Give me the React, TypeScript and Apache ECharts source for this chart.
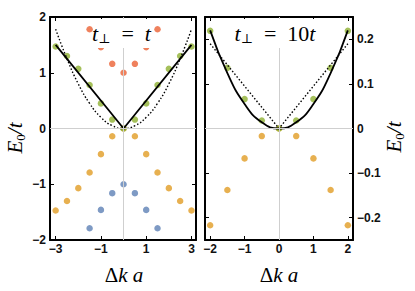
import React, { useEffect, useRef } from "react";
import * as echarts from "echarts";

// ---------- data ----------
const leftX = [-3, -2.5, -2, -1.5, -1, -0.5, 0, 0.5, 1, 1.5, 2, 2.5, 3];
const leftGreen = [1.47, 1.3, 1.07, 0.78, 0.45, 0.16, 0, 0.16, 0.45, 0.78, 1.07, 1.3, 1.47];
const leftOrange = [-1.47, -1.3, -1.07, -0.79, -0.46, -0.14, 0, -0.14, -0.46, -0.79, -1.07, -1.3, -1.47];
const leftInnerX = [-1.5, -1, -0.5, 0, 0.5, 1, 1.5];
const leftRed = [1.78, 1.46, 1.16, 1.0, 1.16, 1.46, 1.78];
const leftBlue = [-1.79, -1.46, -1.16, -1.0, -1.16, -1.46, -1.79];
const leftSolidX = [-3, 0, 3];
const leftSolidY = [1.5, 0, 1.5];
const leftDottedX = [-3, -2.5, -2, -1.5, -1, -0.5, 0, 0.5, 1, 1.5, 2, 2.5, 3];
const leftDottedY = [1.78, 1.25, 0.8, 0.45, 0.2, 0.05, 0, 0.05, 0.2, 0.45, 0.8, 1.25, 1.78];

const rightX = [-2, -1.5, -1, -0.5, 0, 0.5, 1, 1.5, 2];
const rightGreen = [0.219, 0.136, 0.066, 0.018, 0, 0.018, 0.066, 0.136, 0.219];
const rightOrange = [-0.217, -0.138, -0.067, -0.017, 0, -0.017, -0.067, -0.138, -0.217];
const rightSolidY = [0.22, 0.124, 0.055, 0.014, 0, 0.014, 0.055, 0.124, 0.22];
const rightDottedX = [-2, 0, 2];
const rightDottedY = [0.19, 0, 0.19];

const leftXTicks = [-3, -1, 1, 3];
const leftYTicks = [-2, -1, 0, 1, 2];
const rightXTicks = [-2, -1, 0, 1, 2];
const rightYTicks = [-0.2, -0.1, 0, 0.1, 0.2];

const titles = ["t⊥ = t", "t⊥ = 10t"];

// ---------- style ----------
const C = { blue: "#5E81B5", orange: "#E19C24", green: "#8FB032", red: "#EB6235" };
const SERIF = '"Liberation Serif", "DejaVu Serif", serif';
const SANS = '"Liberation Sans", Arial, sans-serif';

const zip = (xs: number[], ys: number[]) => xs.map((x, i) => [x, ys[i]]);
const minus = (v: number) => (v < 0 ? "\u2212" + String(-v) : String(v));

function App() {
  const ref = useRef<HTMLDivElement>(null);
  useEffect(() => {
    const chart = echarts.init(ref.current!, null, { renderer: "svg" });

    const frameLine = { show: true, onZero: false, lineStyle: { color: "#000", width: 2 } };
    const label = (vals: number[], show: boolean, margin: number) => ({
      show,
      customValues: vals,
      formatter: (v: number) => minus(Math.round(v * 10) / 10),
      fontFamily: SANS,
      fontWeight: "bold",
      fontSize: 12,
      color: "#111",
      margin,
    });
    const tick = (vals: number[]) => ({
      show: true,
      inside: true,
      length: 4,
      customValues: vals,
      lineStyle: { color: "#000", width: 1 },
    });
    const xAx = (grid: number, min: number, max: number, ticks: number[], pos: string, show: boolean) => ({
      type: "value",
      gridIndex: grid,
      min,
      max,
      position: pos,
      axisLine: frameLine,
      axisTick: tick(ticks),
      axisLabel: label(ticks, show, 3),
      splitLine: { show: false },
    });
    const yAx = (grid: number, min: number, max: number, ticks: number[], pos: string, show: boolean) => ({
      type: "value",
      gridIndex: grid,
      min,
      max,
      position: pos,
      axisLine: frameLine,
      axisTick: tick(ticks),
      axisLabel: label(ticks, show, 4),
      splitLine: { show: false },
    });

    const scatter = (xi: number, yi: number, d: number[][], color: string) => ({
      type: "scatter",
      xAxisIndex: xi,
      yAxisIndex: yi,
      data: d,
      symbolSize: 6.5,
      itemStyle: { color },
      z: 3,
    });
    const line = (xi: number, yi: number, d: number[][], dotted: boolean, smooth: boolean) => ({
      type: "line",
      xAxisIndex: xi,
      yAxisIndex: yi,
      data: d,
      showSymbol: false,
      smooth,
      lineStyle: dotted
        ? { color: "#000", width: 1.4, type: [1.5, 2] }
        : { color: "#000", width: 1.8 },
      z: 4,
    });
    const zeroLines = (xi: number, yi: number) => ({
      type: "line",
      xAxisIndex: xi,
      yAxisIndex: yi,
      data: [],
      z: 1,
      markLine: {
        silent: true,
        symbol: "none",
        label: { show: false },
        lineStyle: { color: "#cfcfcf", type: "solid", width: 1 },
        data: [{ xAxis: 0 }, { yAxis: 0 }],
      },
    });

    const titleText = (cx: number, t: string) => {
      const rest = t.replace("t⊥ = ", "");
      const m = rest.match(/^(\d*)(t)$/);
      const num = m ? m[1] : "";
      return {
        type: "text",
        x: cx,
        y: 33,
        z: 101,
        style: {
          text: "{i|t}{s|⊥}{n|  =  " + num + "}{i|t}",
          align: "center",
          verticalAlign: "middle",
          rich: {
            i: { fontFamily: SERIF, fontStyle: "italic", fontSize: 22, lineHeight: 24, verticalAlign: "middle" },
            n: { fontFamily: SERIF, fontSize: 22, lineHeight: 24, verticalAlign: "middle" },
            s: { fontFamily: SERIF, fontSize: 13, lineHeight: 12, verticalAlign: "bottom" },
          },
        },
      };
    };
    const xTitle = (cx: number) => ({
      type: "text",
      x: cx,
      y: 275,
      style: {
        text: "{n|Δ}{i|k a}",
        align: "center",
        verticalAlign: "middle",
        rich: {
          i: { fontFamily: SERIF, fontStyle: "italic", fontSize: 21 },
          n: { fontFamily: SERIF, fontSize: 21 },
        },
      },
    });
    const yTitle = (cx: number, cy: number) => ({
      type: "text",
      x: cx,
      y: cy,
      rotation: Math.PI / 2,
      style: {
        text: "{i|E}{s|0}{i|/t}",
        align: "center",
        verticalAlign: "middle",
        rich: {
          i: { fontFamily: SERIF, fontStyle: "italic", fontSize: 21, lineHeight: 24, verticalAlign: "middle" },
          s: { fontFamily: SERIF, fontSize: 13, lineHeight: 12, verticalAlign: "bottom" },
        },
      },
    });

    chart.setOption({
      animation: false,
      backgroundColor: "#fff",
      grid: [
        { left: 50, top: 17, width: 146, height: 223, containLabel: false },
        { left: 205, top: 17, width: 148, height: 223, containLabel: false },
      ],
      xAxis: [
        xAx(0, -3.25, 3.2, leftXTicks, "bottom", true),
        xAx(0, -3.25, 3.2, leftXTicks, "top", false),
        xAx(1, -2.15, 2.15, rightXTicks, "bottom", true),
        xAx(1, -2.15, 2.15, rightXTicks, "top", false),
      ],
      yAxis: [
        yAx(0, -2, 2, leftYTicks, "left", true),
        yAx(0, -2, 2, leftYTicks, "right", false),
        yAx(1, -0.25, 0.25, rightYTicks, "right", true),
        yAx(1, -0.25, 0.25, rightYTicks, "left", false),
      ],
      series: [
        zeroLines(0, 0),
        zeroLines(2, 2),
        scatter(0, 0, zip(leftX, leftOrange), C.orange),
        scatter(0, 0, zip(leftInnerX, leftBlue), C.blue),
        scatter(0, 0, zip(leftInnerX, leftRed), C.red),
        scatter(0, 0, zip(leftX, leftGreen), C.green),
        line(0, 0, zip(leftSolidX, leftSolidY), false, false),
        line(0, 0, zip(leftDottedX, leftDottedY), true, true),
        scatter(2, 2, zip(rightX, rightOrange), C.orange),
        scatter(2, 2, zip(rightX, rightGreen), C.green),
        line(2, 2, zip(rightX, rightSolidY), false, true),
        line(2, 2, zip(rightDottedX, rightDottedY), true, false),
      ],
      graphic: [
        { type: "rect", z: 100, shape: { x: 96, y: 19, width: 56, height: 29 }, style: { fill: "#fff" } },
        { type: "rect", z: 100, shape: { x: 232, y: 19, width: 86, height: 29 }, style: { fill: "#fff" } },
        titleText(121.5, titles[0]),
        titleText(275, titles[1]),
        xTitle(124),
        xTitle(279),
        yTitle(15, 138),
        yTitle(394, 137),
      ],
    });
    return () => chart.dispose();
  }, []);
  return (
    <div
      ref={ref}
      style={{ position: "fixed", left: 0, top: 0, width: 415, height: 291, background: "#fff" }}
    />
  );
}

export default App;
